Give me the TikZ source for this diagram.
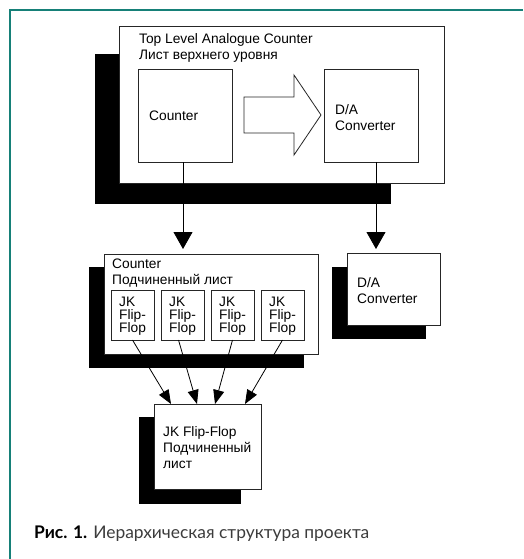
\documentclass[tikz,border=0pt]{standalone}
\usepackage{fontspec}
\setmainfont{Liberation Sans}
\newfontfamily\capfont{Lato}
\usepackage{tikz}
\definecolor{frameteal}{RGB}{22, 128, 120}
\definecolor{captiongray}{RGB}{60, 60, 60}
\usetikzlibrary{arrows.meta, positioning, calc}

\begin{document}
\begin{tikzpicture}[x=1pt, y=-1pt,
    sheet/.style={draw=black!85, line width=0.9pt, fill=white, anchor=north west,
                inner sep=0pt, outer sep=0pt},
    label/.style={anchor=base west, inner sep=0pt, align=left,
                font=\fontsize{13.75}{16}\selectfont},
    jklabel/.style={anchor=base west, inner sep=0pt, align=left,
                font=\fontsize{13.75}{13}\selectfont},
    bigarr/.style={line width=0.8pt, -{Triangle[length=17pt, width=19pt]}},
    smallarr/.style={line width=0.8pt, -{Triangle[length=14pt, width=11pt]}}
]
    \useasboundingbox (0,0) rectangle (523,559);
    \fill[white] (0,0) rectangle (523,559);

    % Frame
    \draw[frameteal, line width=2pt] (10,559) -- (10,10.5) -- (523,10.5);

    % Top level sheet (labels sit on their last baseline)
    \fill[black] (95,54) rectangle (391,204);
    \node[sheet, minimum width=325, minimum height=157] (top) at (119,26) {};
    \node[label] (toplbl) at (139,60) {Top Level Analogue Counter\\Лист верхнего уровня};
    \node[sheet, minimum width=94, minimum height=93] (cnt) at (138,69) {};
    \node[label] (cntlbl) at (149,121) {Counter};
    \node[sheet, minimum width=94, minimum height=93] (dac) at (324,69) {};
    \node[label] (daclbl) at (335,130) {D/A\\Converter};
    \draw[black!85, line width=0.8pt, fill=white]
        (244,97) -- (294,97) -- (294,75) -- (321,115) -- (294,155) -- (294,133) -- (244,133) -- cycle;

    % Counter sheet
    \fill[black] (89,267) rectangle (304,368);
    \node[sheet, minimum width=214, minimum height=100] (cntsheet) at (104,254) {};
    \node[label] (cntsheetlbl) at (112,284) {Counter\\Подчиненный лист};
    \foreach \i in {1,...,4} {
        \node[sheet, minimum width=43, minimum height=50] (jk\i) at ({111+50*(\i-1)},290) {};
        \node[jklabel] at ({119+50*(\i-1)},332) {JK\\Flip-\\Flop};
    }

    % D/A sheet
    \fill[black] (332,267) rectangle (426,339);
    \node[sheet, minimum width=93, minimum height=72] (dasheet) at (347,253) {};
    \node[label] (dasheetlbl) at (357,303) {D/A\\Converter};

    % JK Flip-Flop sheet
    \fill[black] (139,417) rectangle (241,504);
    \node[sheet, minimum width=107, minimum height=85] (jkb) at (154,404) {};
    \node[label] (jkblbl) at (163,468) {JK Flip-Flop\\Подчиненный\\лист};

    % Links
    \draw[bigarr, shorten >=5pt] ([xshift=-2pt]cnt.south) -- ([xshift=-2pt]cnt.south |- cntsheet.north);
    \draw[bigarr, shorten >=4pt] ([xshift=5pt]dac.south) -- ([xshift=5pt]dac.south |- dasheet.north);
    \draw[smallarr] (jk1.south) -- ([xshift=17pt]jkb.north west);
    \draw[smallarr] ([xshift=-4pt]jk2.south) -- ([xshift=43pt]jkb.north west);
    \draw[smallarr] (jk3.south) -- ([xshift=61pt]jkb.north west);
    \draw[smallarr] (jk4.south) -- ([xshift=91pt]jkb.north west);

    % Caption
    \node[anchor=base west, inner sep=0pt, font=\capfont\fontsize{17.4}{20}\selectfont,
          text=captiongray] (caption) at (34,538)
        {\textbf{\color{black}Рис. 1.} Иерархическая структура проекта};
\end{tikzpicture}
\end{document}
